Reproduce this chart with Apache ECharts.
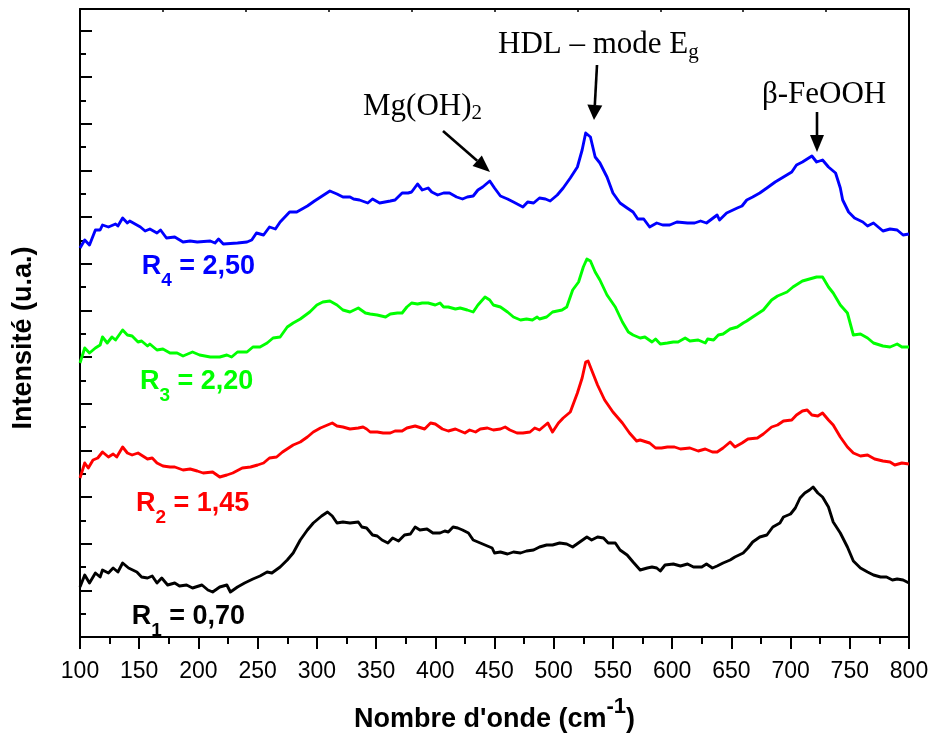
<!DOCTYPE html>
<html><head><meta charset="utf-8">
<script src="https://cdn.jsdelivr.net/npm/echarts@6.0.0/dist/echarts.min.js"></script>
<style>html,body{margin:0;padding:0;background:#fff}#c{width:934px;height:749px}</style>
</head><body><div id="c"></div>
<script>
// Raman spectra (wavenumber in cm-1, intensity in arbitrary units, stacked)
const r1X = [100,104,108,113,117,119,124,128,132,136,141,148,152,157,161,165,169,174,180,184,190,195,203,208,212,218,224,227,233,239,246,252,258,262,269,275,280,286,292,297,304,309,313,317,322,328,335,338,342,347,351,355,360,364,369,374,379,383,387,393,398,404,408,411,415,419,423,428,432,438,444,448,450,455,461,466,472,477,483,488,494,499,505,511,516,522,528,532,537,542,546,552,556,562,567,573,579,583,587,590,594,601,607,613,618,625,629,634,638,643,649,653,660,664,668,674,680,685,691,694,700,704,708,712,716,719,723,727,732,736,742,748,753,759,765,770,776,781,786,790,795,800];
const r1Y = [50,62,54,64,60,67,64,69,65,74,69,65,60,59,61,54,59,52,54,51,52,49,52,47,45,50,52,45,50,54,58,61,65,64,70,77,84,97,107,114,121,125,121,114,115,114,115,110,109,102,101,97,94,99,96,102,103,110,107,108,104,104,106,105,110,109,107,104,97,94,91,89,84,85,83,85,84,86,87,90,92,92,94,93,90,95,100,97,100,99,94,94,87,82,75,67,69,70,69,66,72,73,71,73,70,70,73,69,71,74,77,80,84,89,95,100,102,110,114,120,123,129,139,144,147,150,144,140,130,115,104,90,76,69,65,62,60,60,57,58,57,54];

const r2X = [100,104,107,111,115,119,124,128,131,136,140,144,149,157,161,165,170,176,180,187,193,199,204,212,218,224,229,237,244,250,255,260,266,271,280,286,292,297,303,309,313,317,322,328,335,339,342,345,351,356,362,366,372,376,383,391,396,400,406,411,417,421,425,429,434,438,444,449,455,459,463,469,474,480,484,488,495,499,504,508,514,520,524,527,529,533,537,543,550,558,564,570,573,581,586,591,596,602,607,615,622,628,634,638,643,649,653,659,664,672,677,684,689,694,701,705,710,714,718,723,727,732,736,742,748,753,759,765,771,778,784,788,794,800];
const r2Y = [159,174,169,177,179,185,180,183,180,190,184,182,184,178,179,174,171,170,170,167,168,166,164,165,160,162,164,169,170,172,174,179,180,185,192,195,200,205,209,212,214,211,210,208,209,210,208,205,205,204,204,206,206,209,211,208,214,213,208,206,208,206,204,207,205,208,209,207,208,210,207,204,204,205,209,207,214,205,214,219,225,244,259,275,276,264,252,237,225,214,204,196,197,194,189,189,190,190,188,189,186,188,185,185,189,195,190,194,198,199,203,210,212,216,217,222,226,227,222,221,224,217,212,200,190,184,181,182,178,176,175,172,174,173];

const r3X = [100,104,108,113,117,119,123,127,130,136,140,144,149,152,157,159,165,170,176,182,187,195,201,210,218,224,228,233,241,246,252,258,263,269,275,280,286,294,300,305,311,317,322,328,335,341,345,351,358,362,368,372,376,380,385,389,394,400,404,407,411,417,421,427,432,436,442,446,449,455,461,466,472,477,482,486,488,494,499,507,511,516,521,525,528,531,535,539,545,552,558,563,567,573,577,583,586,590,596,601,605,611,615,622,628,630,635,639,643,649,655,660,663,668,677,684,689,697,702,710,716,722,727,732,736,742,748,753,759,765,770,778,784,790,794,800];
const r3Y = [274,289,284,289,292,300,294,300,297,307,302,301,295,296,291,293,287,288,284,284,281,285,282,280,280,282,280,285,285,290,290,294,299,300,310,314,318,325,332,335,336,332,327,325,329,324,323,322,320,323,324,324,330,334,333,334,334,332,334,330,330,328,329,327,325,332,340,337,332,330,325,320,317,318,317,320,318,320,325,327,330,347,355,370,378,376,365,357,342,330,315,305,302,299,300,295,298,293,294,295,295,299,296,297,294,298,297,302,303,308,310,314,316,320,327,337,341,345,350,356,358,360,360,350,344,332,324,302,303,299,294,291,290,293,290,290];

const r4X = [100,104,108,113,117,119,124,130,132,136,140,142,151,155,159,165,168,173,180,187,193,199,210,214,217,221,233,241,245,249,255,260,265,269,277,283,292,298,311,317,322,328,331,336,343,347,353,362,366,372,377,380,385,389,394,397,402,407,412,418,423,427,432,436,440,446,450,455,461,466,474,478,483,488,493,497,503,508,514,520,524,527,531,535,539,545,550,556,562,567,571,576,581,587,592,598,604,613,619,624,629,638,640,646,655,659,663,668,674,680,687,694,701,705,710,718,722,727,732,738,742,744,749,754,761,765,770,778,784,790,795,800];
const r4Y = [389,397,392,407,407,412,410,413,411,419,414,416,410,406,408,404,407,399,400,395,396,395,396,394,398,393,394,395,397,404,402,410,408,415,425,425,431,436,446,443,440,440,438,437,434,438,434,436,437,444,444,445,453,447,449,445,442,444,444,440,438,440,441,447,450,456,449,441,438,435,430,435,434,439,438,436,442,449,459,470,487,504,500,480,474,460,444,434,429,425,418,418,410,414,412,412,415,414,414,416,414,422,417,424,429,431,437,440,444,449,455,460,465,472,475,481,475,477,470,464,449,437,425,419,415,411,414,406,408,407,402,403];

const seriesNames = ['R1 = 0,70', 'R2 = 1,45', 'R3 = 2,20', 'R4 = 2,50'];
const seriesColors = ['#000000', '#ff0000', '#00ff00', '#0000ff'];
const xTickLabels = ['100','150','200','250','300','350','400','450','500','550','600','650','700','750','800'];
const xMin = 100, xMax = 800, xStep = 50;
const yMax = 628, yStep = 46.65;   // intensity axis (u.a.), no labels

const SANS = '"Liberation Sans", Arial, Helvetica, sans-serif';
const SERIF = '"Liberation Serif", "Times New Roman", serif';

const chart = echarts.init(document.getElementById('c'), null, {renderer: 'canvas'});

function pairs(xs, ys) { const n = Math.min(xs.length, ys.length); const o = []; for (let i = 0; i < n; i++) o.push([xs[i], ys[i]]); return o; }
const allX = [r1X, r2X, r3X, r4X], allY = [r1Y, r2Y, r3Y, r4Y];

const majorY = [], minorY = [];
for (let k = 0; k * yStep <= yMax; k++) { majorY.push(+(k * yStep).toFixed(3)); if ((k + 0.5) * yStep < yMax) minorY.push(+((k + 0.5) * yStep).toFixed(3)); }

const series = allX.map((xs, i) => ({
  name: seriesNames[i], type: 'line', data: pairs(xs, allY[i]),
  xAxisIndex: 0, yAxisIndex: 0,
  symbol: 'none', showSymbol: false, smooth: false, animation: false,
  lineStyle: { color: seriesColors[i], width: 2.9, join: 'round' },
  itemStyle: { color: seriesColors[i] }, z: 3
}));

function arrow(x1, y1, x2, y2, headLen, headW) {
  const dx = x2 - x1, dy = y2 - y1, L = Math.hypot(dx, dy), ux = dx / L, uy = dy / L;
  const bx = x2 - ux * headLen, by = y2 - uy * headLen, px = -uy * headW / 2, py = ux * headW / 2;
  return [
    { type: 'line', shape: { x1: x1, y1: y1, x2: bx, y2: by }, style: { stroke: '#000', lineWidth: 2.6 }, z: 10 },
    { type: 'polygon', shape: { points: [[x2, y2], [bx + px, by + py], [bx - px, by - py]] }, style: { fill: '#000' }, z: 10 }
  ];
}

// Text made of pieces (sub/superscripts), placed on a common baseline
const mctx = document.createElement('canvas').getContext('2d');
function pieceText(x0, baseline, pieces, color, centered) {
  const K = 0.32;
  const widths = pieces.map(p => { mctx.font = (p.weight || 'normal') + ' ' + p.size + 'px ' + p.family; return mctx.measureText(p.t).width; });
  const total = widths.reduce((a, b) => a + b, 0);
  let x = centered ? x0 - total / 2 : x0;
  return pieces.map((p, i) => {
    const el = { type: 'text', z: 10, style: { x: x, y: baseline + (p.dy || 0) - K * p.size, text: p.t,
      align: 'left', verticalAlign: 'middle', fontFamily: p.family, fontSize: p.size,
      fontWeight: p.weight || 'normal', fill: color } };
    x += widths[i];
    return el;
  });
}
function rLabel(left, baseline, sub, rest, color) {
  return pieceText(left, baseline, [
    { t: 'R', size: 27, weight: 'bold', family: SANS },
    { t: sub, size: 19, weight: 'bold', family: SANS, dy: 12 },
    { t: rest, size: 27, weight: 'bold', family: SANS }
  ], color, false);
}
function serifLabel(left, baseline, main, sub) {
  const p = [{ t: main, size: 31, family: SERIF }];
  if (sub) p.push({ t: sub, size: 21, family: SERIF, dy: 4 });
  return pieceText(left, baseline, p, '#000', false);
}

const graphics = [].concat(
  rLabel(141.7, 275, '4', ' = 2,50', seriesColors[3]),
  rLabel(140, 390, '3', ' = 2,20', seriesColors[2]),
  rLabel(136, 511.7, '2', ' = 1,45', seriesColors[1]),
  rLabel(131.7, 625, '1', ' = 0,70', seriesColors[0]),
  serifLabel(498, 55, 'HDL \u2013 mode E', 'g'),
  serifLabel(363, 116.7, 'Mg(OH)', '2'),
  serifLabel(762, 105, '\u03b2-FeOOH', ''),
  arrow(443, 131, 490, 172, 17, 14),
  arrow(597, 65, 594, 120, 15, 15),
  arrow(817, 112, 817, 152, 17, 14),
  pieceText(494.5, 728, [
    { t: 'Nombre d\'onde (cm', size: 27, weight: 'bold', family: SANS },
    { t: '-1', size: 22, weight: 'bold', family: SANS, dy: -14 },
    { t: ')', size: 27, weight: 'bold', family: SANS }
  ], '#000', true),
  [{ type: 'text', z: 10, x: 24, y: 338, rotation: Math.PI / 2,
     style: { x: 0, y: 0, text: 'Intensit\u00e9 (u.a.)', align: 'center', verticalAlign: 'middle',
       fontFamily: SANS, fontWeight: 'bold', fontSize: 27, fill: '#000' } }]
);

const axisLineStyle = { color: '#000', width: 2 };
chart.setOption({
  animation: false,
  backgroundColor: '#fff',
  grid: { left: 80, right: 25, top: 9, bottom: 112, containLabel: false, outerBoundsMode: 'none' },
  xAxis: [
    { type: 'value', min: xMin, max: xMax, interval: xStep, position: 'bottom',
      axisLine: { show: true, onZero: false, lineStyle: axisLineStyle },
      axisTick: { show: true, inside: false, length: 12, lineStyle: { color: '#000', width: 2 } },
      minorTick: { show: true, splitNumber: 2, length: 7, lineStyle: { color: '#000', width: 2 } },
      axisLabel: { show: true, margin: 23, color: '#000', fontFamily: SANS, fontSize: 23,
        formatter: v => { const i = xTickLabels.indexOf(String(v)); return i >= 0 ? xTickLabels[i] : ''; } },
      splitLine: { show: false }, minorSplitLine: { show: false } },
    { type: 'value', min: 0, max: xMax - xMin, interval: 70, position: 'top',
      axisLine: { show: true, onZero: false, lineStyle: axisLineStyle },
      axisTick: { show: true, inside: true, length: 3, lineStyle: { color: '#000', width: 1.5 } },
      axisLabel: { show: false }, splitLine: { show: false } }
  ],
  yAxis: [
    { type: 'value', min: 0, max: yMax, position: 'left',
      axisLine: { show: true, onZero: false, lineStyle: axisLineStyle },
      axisTick: { show: true, inside: true, length: 12, customValues: majorY, lineStyle: { color: '#000', width: 2 } },
      axisLabel: { show: false, customValues: majorY }, splitLine: { show: false } },
    { type: 'value', min: 0, max: yMax, position: 'right',
      axisLine: { show: true, onZero: false, lineStyle: axisLineStyle },
      axisTick: { show: false }, axisLabel: { show: false }, splitLine: { show: false } },
    { type: 'value', min: 0, max: yMax, position: 'left', offset: 0,
      axisLine: { show: false },
      axisTick: { show: true, inside: true, length: 6, customValues: minorY, lineStyle: { color: '#000', width: 2 } },
      axisLabel: { show: false, customValues: minorY }, splitLine: { show: false } }
  ],
  series: series,
  graphic: graphics
});
</script>
</body></html>
